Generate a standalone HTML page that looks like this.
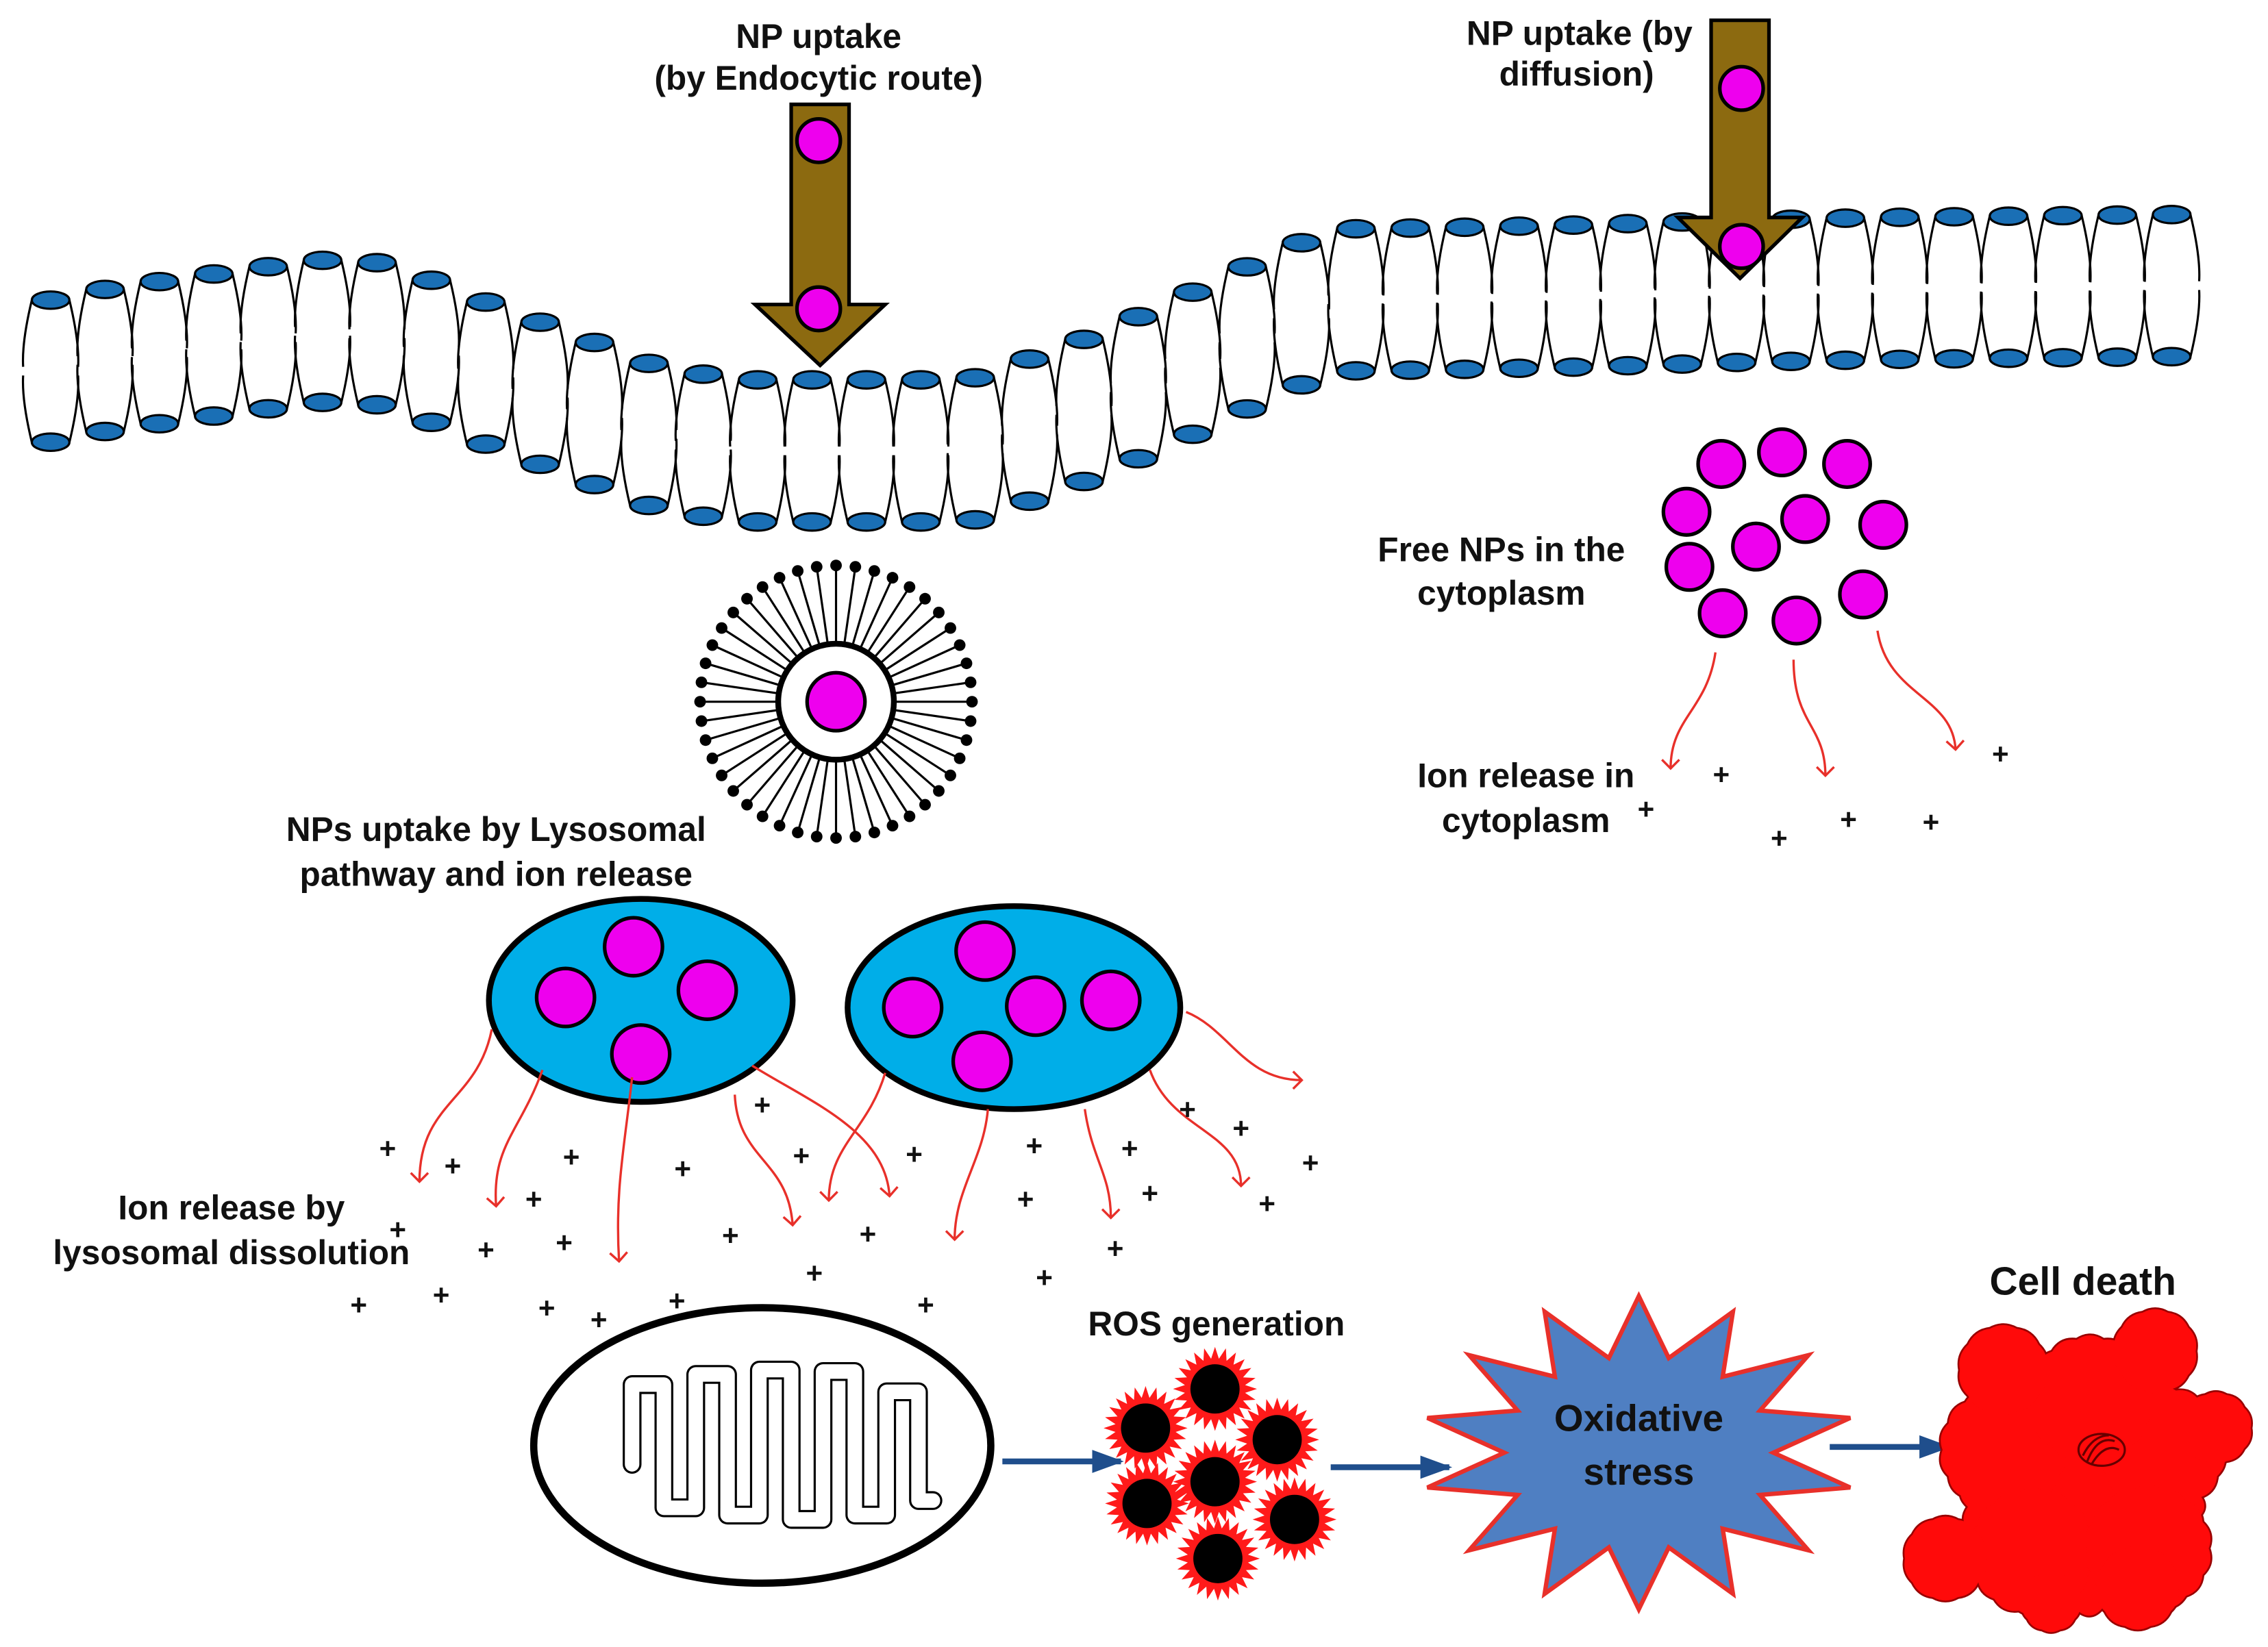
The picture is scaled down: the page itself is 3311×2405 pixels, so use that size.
<!DOCTYPE html>
<html><head><meta charset="utf-8"><style>
html,body{margin:0;padding:0;background:#fff}
svg{display:block}
text{font-family:"Liberation Sans",Arial,sans-serif;font-weight:bold;fill:#111}
</style></head><body>
<svg id="s" width="3311" height="2405" viewBox="0 0 1568 1136" preserveAspectRatio="none" xmlns="http://www.w3.org/2000/svg">
<defs>
<marker id="ra" markerWidth="14" markerHeight="14" refX="7" refY="7" orient="auto" markerUnits="userSpaceOnUse">
<path d="M1,1 L7,7 L1,13" fill="none" stroke="#e8302a" stroke-width="1.6"/></marker>
<marker id="ba" markerWidth="24" markerHeight="20" refX="20" refY="10" orient="auto" markerUnits="userSpaceOnUse">
<path d="M0,2 L22,10 L0,18 Z" fill="#1f4e8c"/></marker>
</defs>
<g id="mem"></g>

<g stroke="#000" stroke-width="2.5" fill="#8c6a10">
<path d="M547,72 H587 V210 H612 L567,252 L522,210 H547 Z"/>
<path d="M1183,14 H1223 V150 H1246 L1203,192 L1160,150 H1183 Z"/>
</g>
<g fill="#ee00ee" stroke="#000" stroke-width="2.5">
<circle cx="566" cy="97" r="15"/><circle cx="566" cy="213" r="15"/>
<circle cx="1204" cy="61" r="15"/><circle cx="1204" cy="170" r="15"/>
</g>
<g font-size="23.5" text-anchor="middle">
<text x="566" y="33">NP uptake</text><text x="566" y="62">(by Endocytic route)</text>
<text x="1092" y="31">NP uptake (by</text><text x="1090" y="59">diffusion)</text>
<text x="1038" y="387">Free NPs in the</text><text x="1038" y="417">cytoplasm</text>
<text x="1055" y="543">Ion release in</text><text x="1055" y="574">cytoplasm</text>
<text x="343" y="580">NPs uptake by Lysosomal</text><text x="343" y="611">pathway and ion release</text>
<text x="160" y="841">Ion release by</text><text x="160" y="872">lysosomal dissolution</text>
<text x="841" y="921">ROS generation</text>
</g>
<text x="1440" y="893" font-size="27" text-anchor="middle">Cell death</text>

<g id="ves"></g>

<g fill="#ee00ee" stroke="#000" stroke-width="2.5">
<circle cx="1190" cy="320" r="16"/><circle cx="1232" cy="312" r="16"/><circle cx="1277" cy="320" r="16"/>
<circle cx="1166" cy="353" r="16"/><circle cx="1248" cy="358" r="16"/><circle cx="1302" cy="362" r="16"/>
<circle cx="1214" cy="377" r="16"/><circle cx="1168" cy="391" r="16"/><circle cx="1288" cy="410" r="16"/>
<circle cx="1191" cy="423" r="16"/><circle cx="1242" cy="428" r="16"/>
</g>

<ellipse cx="443" cy="690" rx="105" ry="70" fill="#00aee8" stroke="#000" stroke-width="4"/>
<ellipse cx="701" cy="695" rx="115" ry="70" fill="#00aee8" stroke="#000" stroke-width="4"/>
<g fill="#ee00ee" stroke="#000" stroke-width="2.5">
<circle cx="438" cy="653" r="20"/><circle cx="391" cy="688" r="20"/><circle cx="489" cy="683" r="20"/><circle cx="443" cy="727" r="20"/>
<circle cx="681" cy="656" r="20"/><circle cx="631" cy="695" r="20"/><circle cx="716" cy="694" r="20"/><circle cx="768" cy="690" r="20"/><circle cx="679" cy="732" r="20"/>
</g>

<g fill="none" stroke="#e8302a" stroke-width="1.6" marker-end="url(#ra)">
<path d="M340,710 C330,760 290,760 290,815"/>
<path d="M375,738 C360,780 340,790 343,832"/>
<path d="M437,743 C432,790 425,820 428,870"/>
<path d="M508,755 C510,800 545,800 548,845"/>
<path d="M520,735 C560,760 612,780 615,825"/>
<path d="M612,740 C600,780 573,790 573,828"/>
<path d="M683,765 C680,800 660,820 660,855"/>
<path d="M750,765 C755,800 768,810 768,840"/>
<path d="M795,738 C810,780 858,780 858,818"/>
<path d="M820,698 C850,710 860,745 900,745"/>
<path d="M1186,450 C1180,490 1155,495 1155,530"/>
<path d="M1240,455 C1240,500 1262,500 1262,535"/>
<path d="M1298,435 C1305,480 1350,480 1352,517"/>
</g>
<g id="plus" font-size="20" text-anchor="middle"></g>

<ellipse cx="527" cy="997" rx="158" ry="95" fill="#fff" stroke="#000" stroke-width="5"/>
<g id="mito" fill="none" stroke-linejoin="round" stroke-linecap="round"></g>

<g stroke="#1f4e8c" stroke-width="4" marker-end="url(#ba)">
<line x1="693" y1="1008" x2="775" y2="1008"/>
<line x1="920" y1="1012" x2="1002" y2="1012"/>
<line x1="1265" y1="998" x2="1347" y2="998"/>
</g>
<g id="ros"></g>

<polygon id="star" fill="#4f7fc2" stroke="#e8302a" stroke-width="3"/>
<text x="1133" y="987" font-size="26" text-anchor="middle">Oxidative</text>
<text x="1133" y="1024" font-size="26" text-anchor="middle">stress</text>

<g id="cd"></g>
<g fill="none" stroke="#600" stroke-width="1.5">
<ellipse cx="1453" cy="1000" rx="16" ry="11"/>
<path d="M1443,1008 Q1450,990 1462,994 M1446,1010 Q1455,995 1465,1000 M1440,1004 Q1447,990 1458,990"/>
</g>
</svg>
<script>
var NS="http://www.w3.org/2000/svg";
function el(p,t,a){var e=document.createElementNS(NS,t);for(var k in a)e.setAttribute(k,a[k]);p.appendChild(e);return e;}
var pts=[[0,207],[35,207],[70,200],[140,190],[215,180],[250,178],[290,190],[340,210],[400,232],[460,255],[520,262],[600,262],[670,262],[740,238],[800,213],[860,185],[890,172],[920,158],[1000,157],[1100,155],[1200,152],[1300,150],[1500,148],[1600,148]];
function yt(x){for(var i=0;i<pts.length-1;i++){if(x<=pts[i+1][0]){var a=pts[i],b=pts[i+1];return a[1]+(b[1]-a[1])*(x-a[0])/(b[0]-a[0]);}}return 148;}
var m=document.getElementById('mem');
for(var x=35;x<=1502;x+=37.6){var t=yt(x),b=t+98,mid=(t+b)/2;
el(m,'path',{d:'M'+(x-13)+','+t+' Q'+(x-20)+','+(mid-20)+' '+(x-19)+','+(mid-3)+' M'+(x-19)+','+(mid+3)+' Q'+(x-20)+','+(mid+20)+' '+(x-13)+','+b+' M'+(x+13)+','+t+' Q'+(x+20)+','+(mid-20)+' '+(x+19)+','+(mid-3)+' M'+(x+19)+','+(mid+3)+' Q'+(x+20)+','+(mid+20)+' '+(x+13)+','+b,fill:'none',stroke:'#000','stroke-width':1.5});
el(m,'ellipse',{cx:x,cy:t,rx:13,ry:6,fill:'#1a6fb5',stroke:'#000','stroke-width':1.5});
el(m,'ellipse',{cx:x,cy:b,rx:13,ry:6,fill:'#1a6fb5',stroke:'#000','stroke-width':1.5});}
var v=document.getElementById('ves');var cx=578,cy=484;
for(var i=0;i<44;i++){var a=i*2*Math.PI/44;var c=Math.cos(a),s=Math.sin(a);
el(v,'line',{x1:cx+c*40,y1:cy+s*40,x2:cx+c*92,y2:cy+s*92,stroke:'#000','stroke-width':1.5});
el(v,'circle',{cx:cx+c*94,cy:cy+s*94,r:4,fill:'#000'});}
el(v,'circle',{cx:cx,cy:cy,r:40,fill:'#fff',stroke:'#000','stroke-width':4});
el(v,'circle',{cx:cx,cy:cy,r:20,fill:'#ee00ee',stroke:'#000','stroke-width':2.5});
var P=[[268,792],[313,804],[395,798],[369,827],[472,806],[527,762],[554,797],[632,796],[715,790],[781,792],[821,765],[858,778],[906,802],[709,827],[795,823],[876,830],[275,848],[390,857],[336,862],[505,852],[600,851],[771,861],[563,878],[722,881],[248,900],[305,893],[378,902],[414,910],[468,897],[640,900],[1190,534],[1383,520],[1138,558],[1278,565],[1335,567],[1230,578]];
var pg=document.getElementById('plus');P.forEach(function(p){var t=el(pg,'text',{x:p[0],y:p[1]+7});t.textContent='+';});
// mitochondrion cristae meander (double line)
var d='M437,1010 V955',xx=437,up=true,tops=[955,948,952,945,950,946,955,960,958],bots=[1040,1050,1045,1055,1048,1052,1045,1040,1035];
for(var k=0;k<9;k++){xx+=22;var y=(k%2==0)?tops[k]:bots[k];d+=' H'+xx+' V'+((k%2==0)?bots[k]:tops[k]);}
d+=' H'+(xx+10);
var mg=document.getElementById('mito');
el(mg,'path',{d:d,stroke:'#000','stroke-width':13});
el(mg,'path',{d:d,stroke:'#fff','stroke-width':10});
var r=document.getElementById('ros');
[[792,985],[840,958],[883,993],[793,1037],[840,1022],[895,1048],[842,1075]].forEach(function(p){
var dd='';for(var i=0;i<48;i++){var a=i*Math.PI/24,R=i%2?21:29;dd+=(i?'L':'M')+(p[0]+Math.cos(a)*R).toFixed(1)+','+(p[1]+Math.sin(a)*R).toFixed(1);}
el(r,'path',{d:dd+'Z',fill:'#ff1a1a'});el(r,'circle',{cx:p[0],cy:p[1],r:17,fill:'#000'});});
var sp='',n=14;for(var i=0;i<2*n;i++){var a=i*Math.PI/n-Math.PI/2,R=i%2?0.62:1;sp+=(1133+Math.cos(a)*150*R).toFixed(1)+','+(1002+Math.sin(a)*108*R).toFixed(1)+' ';}
document.getElementById('star').setAttribute('points',sp);
// cell death: scalloped blobs, outline only on outside
var C=[[1440,1030,80],[1385,1000,42],[1495,1000,42],[1405,1070,42],[1485,1068,42],[1445,965,42],
[1385,945,30],[1490,932,28],[1532,985,24],[1345,1075,28],[1478,1095,28],[1418,1105,20]];
var cd=document.getElementById('cd');
function scal(c,fill,stroke,sw){var dd='',N=Math.max(10,Math.round(c[2]/3));
for(var i=0;i<=N;i++){var a=i*2*Math.PI/N;var px=c[0]+Math.cos(a)*c[2],py=c[1]+Math.sin(a)*c[2];
if(i==0)dd+='M'+px.toFixed(1)+','+py.toFixed(1);else{var am=(i-0.5)*2*Math.PI/N,R2=c[2]*1.12;dd+=' Q'+(c[0]+Math.cos(am)*R2).toFixed(1)+','+(c[1]+Math.sin(am)*R2).toFixed(1)+' '+px.toFixed(1)+','+py.toFixed(1);}}
el(cd,'path',{d:dd+'Z',fill:fill,stroke:stroke,'stroke-width':sw});}
C.forEach(function(c){scal(c,'#ff0a0a','#900',2.5);});
C.forEach(function(c){scal(c,'#ff0a0a','none',0);});
</script>
</body></html>
